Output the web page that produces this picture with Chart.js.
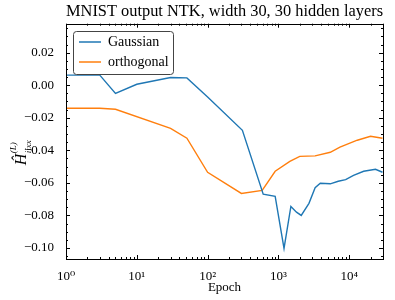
<!DOCTYPE html>
<html lang="en">
<head>
    <meta charset="UTF-8">
    <title>MNIST output NTK</title>
    <script src="https://cdn.jsdelivr.net/npm/chart.js"></script>
    <style>
        body { margin: 0; background: #fff; }
        .wrap { width: 395px; height: 300px; }
    </style>
</head>
<body>
    <div class="wrap"><canvas id="ntkChart" width="395" height="300"></canvas></div>

    <script>
        // epochs and kernel values
        const gaussEpochs = [1, 3, 5, 10, 30, 51, 100, 310, 610, 900, 1200, 1500, 1800, 2100, 2700, 3300, 3900, 5400, 7000, 8900, 11500, 16000, 23500, 29500];
        const gaussValues = [0.0062, 0.0062, -0.005, 0.0006, 0.0047, 0.0045, -0.0072, -0.0277, -0.067, -0.0683, -0.1003, -0.0745, -0.078, -0.080, -0.0726, -0.063, -0.0603, -0.0606, -0.059, -0.058, -0.0554, -0.0529, -0.0517, -0.0535];

        const orthoEpochs = [1, 3, 5, 30, 51, 100, 300, 590, 900, 1450, 2000, 3300, 5400, 7400, 13000, 20000, 29500];
        const orthoValues = [-0.0142, -0.0142, -0.0148, -0.0265, -0.0326, -0.0535, -0.0665, -0.0646, -0.0529, -0.0468, -0.0437, -0.0434, -0.0412, -0.038, -0.0338, -0.0314, -0.0326];

        const xTicks = [1, 10, 100, 1000, 10000];
        const xTickLabels = ['10\u2070', '10\u00b9', '10\u00b2', '10\u00b3', '10\u2074'];
        const yTicks = [-0.10, -0.08, -0.06, -0.04, -0.02, 0.00, 0.02];

        const SERIF = '"Liberation Serif", "DejaVu Serif", serif';

        function toPoints(xs, ys) {
            return xs.map((x, i) => ({ x: x, y: ys[i] }));
        }

        function fmtY(v) {
            const s = Math.abs(v).toFixed(2);
            return (v < -1e-9 ? '\u2212' : '') + s;
        }

        // frame, inward ticks on all four sides, y label, legend
        const decorations = {
            id: 'decorations',
            afterDraw(chart) {
                const ctx = chart.ctx;
                const a = chart.chartArea;
                const xs = chart.scales.x;
                const ys = chart.scales.y;
                ctx.save();
                ctx.strokeStyle = '#000';
                ctx.lineWidth = 1;
                ctx.strokeRect(Math.round(a.left) + 0.5, Math.round(a.top) + 0.5,
                    Math.round(a.right - a.left), Math.round(a.bottom - a.top));

                function tickX(v, len) {
                    const p = Math.round(xs.getPixelForValue(v)) + 0.5;
                    ctx.beginPath();
                    ctx.moveTo(p, a.bottom); ctx.lineTo(p, a.bottom - len);
                    ctx.moveTo(p, a.top); ctx.lineTo(p, a.top + len);
                    ctx.stroke();
                }
                function tickY(v, len) {
                    const p = Math.round(ys.getPixelForValue(v)) + 0.5;
                    ctx.beginPath();
                    ctx.moveTo(a.left, p); ctx.lineTo(a.left + len, p);
                    ctx.moveTo(a.right, p); ctx.lineTo(a.right - len, p);
                    ctx.stroke();
                }
                for (let d = 1; d <= 10000; d *= 10) {
                    tickX(d, 4);
                    for (let m = 2; m <= 9; m++) {
                        if (d * m <= xs.max) tickX(d * m, 2);
                    }
                }
                for (let v = -0.105; v <= 0.036; v += 0.005) {
                    const major = Math.abs(Math.round(v / 0.02) * 0.02 - v) < 1e-6;
                    tickY(v, major ? 4 : 2);
                }

                // y axis label
                ctx.fillStyle = '#000';
                ctx.translate(26, (a.top + a.bottom) / 2 + 4);
                ctx.rotate(-Math.PI / 2);
                ctx.textBaseline = 'alphabetic';
                ctx.textAlign = 'left';
                ctx.font = 'italic 16px ' + SERIF;
                ctx.fillText('\u0124', -20, 0);
                ctx.font = 'italic 9px ' + SERIF;
                ctx.fillText('(L)', -8, -10);
                ctx.fillText('ijxx', -8, 5);
                ctx.setTransform(1, 0, 0, 1, 0, 0);

                // legend box
                const lx = 73, ly = 31, lw = 100, lh = 43;
                ctx.beginPath();
                ctx.roundRect(lx + 0.5, ly + 0.5, lw, lh, 3);
                ctx.fillStyle = 'rgba(255,255,255,0.85)';
                ctx.fill();
                ctx.strokeStyle = '#444';
                ctx.stroke();
                chart.data.datasets.forEach((ds, i) => {
                    const yy = ly + 11 + i * 20;
                    ctx.strokeStyle = ds.borderColor;
                    ctx.lineWidth = 1.5;
                    ctx.beginPath();
                    ctx.moveTo(lx + 6, yy); ctx.lineTo(lx + 28, yy);
                    ctx.stroke();
                    ctx.fillStyle = '#000';
                    ctx.font = '14px ' + SERIF;
                    ctx.textBaseline = 'middle';
                    ctx.fillText(ds.label, lx + 35, yy);
                });
                ctx.restore();
            }
        };

        new Chart(document.getElementById('ntkChart'), {
            type: 'line',
            data: {
                datasets: [
                    {
                        label: 'Gaussian',
                        data: toPoints(gaussEpochs, gaussValues),
                        borderColor: '#1f77b4',
                        borderWidth: 1.4,
                        pointRadius: 0,
                        tension: 0,
                        fill: false
                    },
                    {
                        label: 'orthogonal',
                        data: toPoints(orthoEpochs, orthoValues),
                        borderColor: '#ff7f0e',
                        borderWidth: 1.4,
                        pointRadius: 0,
                        tension: 0,
                        fill: false
                    }
                ]
            },
            options: {
                responsive: false,
                animation: false,
                layout: { padding: { left: 0, right: 12, top: 0, bottom: 0 } },
                plugins: {
                    legend: { display: false },
                    tooltip: { enabled: false },
                    title: {
                        display: true,
                        fullSize: false,
                        text: 'MNIST output NTK, width 30, 30 hidden layers',
                        color: '#000',
                        font: { family: SERIF, size: 17, weight: 'normal', lineHeight: 1.1 },
                        padding: { top: 2, bottom: 3 }
                    }
                },
                scales: {
                    x: {
                        type: 'logarithmic',
                        min: 1,
                        max: 30000,
                        grid: { display: false },
                        border: { display: false },
                        afterBuildTicks(scale) {
                            scale.ticks = xTicks.map(v => ({ value: v, major: true }));
                        },
                        afterFit(scale) { scale.height = 41; },
                        ticks: {
                            color: '#000',
                            font: { family: SERIF, size: 13 },
                            padding: 2,
                            maxRotation: 0,
                            autoSkip: false,
                            callback: (v) => {
                                const i = xTicks.indexOf(v);
                                return i >= 0 ? xTickLabels[i] : '';
                            }
                        },
                        title: {
                            display: true,
                            text: 'Epoch',
                            color: '#000',
                            font: { family: SERIF, size: 13 },
                            padding: { top: 0, bottom: 5 }
                        }
                    },
                    y: {
                        min: -0.1068,
                        max: 0.0378,
                        grid: { display: false },
                        border: { display: false },
                        afterBuildTicks(scale) {
                            scale.ticks = yTicks.map(v => ({ value: v }));
                        },
                        afterFit(scale) { scale.width = 66; },
                        ticks: {
                            color: '#000',
                            font: { family: SERIF, size: 13 },
                            padding: 4,
                            callback: (v) => fmtY(v)
                        }
                    }
                }
            },
            plugins: [decorations]
        });
    </script>
</body>
</html>
